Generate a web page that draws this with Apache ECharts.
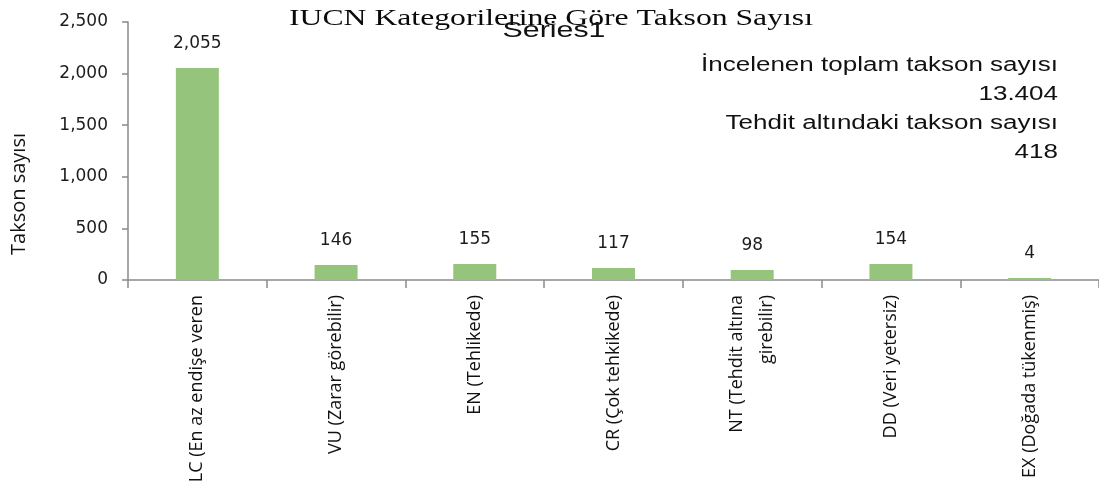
<!DOCTYPE html>
<html>
<head>
<meta charset="utf-8">
<script src="https://cdn.jsdelivr.net/npm/echarts@6/dist/echarts.min.js"></script>
<style>
  html, body { margin: 0; padding: 0; background: #fff; }
  #chart { width: 1099px; height: 493px; }
</style>
</head>
<body>
<div id="chart"></div>
<script>
// IUCN kategorileri ve takson sayıları
var categories = [
    'LC (En az endişe veren',
    'VU (Zarar görebilir)',
    'EN (Tehlikede)',
    'CR (Çok tehkikede)',
    'NT (Tehdit altına\ngirebilir)',
    'DD (Veri yetersiz)',
    'EX (Doğada tükenmiş)'
];
var values = [2055, 146, 155, 117, 98, 154, 4];
var yTicks = [0, 500, 1000, 1500, 2000, 2500];
var notes = ['İncelenen toplam takson sayısı', '13.404', 'Tehdit altındaki takson sayısı', '418'];

var fmt = function (v) { return Number(v).toLocaleString('en-US'); };

// sağ üstteki açıklama yazıları (resimde yatay olarak gerilmiş)
var noteTexts = notes.map(function (t, i) {
    return {
        type: 'text',
        x: 1058,
        y: 65 + i * 29,
        scaleX: 1.3,
        style: {
            text: t,
            align: 'right',
            verticalAlign: 'middle',
            font: '20px "Liberation Sans"',
            fill: '#111'
        }
    };
});

var option = {
    animation: false,
    graphic: [
        {
            type: 'text',
            x: 551,
            y: 19,
            scaleX: 1.32,
            style: {
                text: 'IUCN Kategorilerine Göre Takson Sayısı',
                align: 'center',
                verticalAlign: 'middle',
                font: '24px "Liberation Serif"',
                fill: '#0a0a0a'
            }
        },
        {
            type: 'text',
            x: 554,
            y: 31,
            scaleX: 1.38,
            style: {
                text: 'Series1',
                align: 'center',
                verticalAlign: 'middle',
                font: '22px "Liberation Sans"',
                fill: '#111'
            }
        },
        {
            type: 'text',
            x: 19,
            y: 194,
            rotation: Math.PI / 2,
            style: {
                text: 'Takson sayısı',
                align: 'center',
                verticalAlign: 'middle',
                font: '20px "Open Sans"',
                fill: '#111'
            }
        }
    ].concat(noteTexts),
    grid: {
        left: 128,
        right: -2,
        top: 22,
        bottom: 213
    },
    xAxis: {
        type: 'category',
        data: categories,
        axisLine: { lineStyle: { color: '#8a8a8a', width: 1.5 } },
        axisTick: { show: true, alignWithLabel: false, length: 8, lineStyle: { color: '#8a8a8a', width: 1.5 } },
        axisLabel: {
            rotate: 90,
            interval: 0,
            margin: 15,
            fontFamily: 'Open Sans',
            fontSize: 18,
            color: '#111',
            lineHeight: 30
        }
    },
    yAxis: {
        type: 'value',
        min: 0,
        max: 2500,
        interval: 500,
        splitLine: { show: false },
        axisLine: { show: true, lineStyle: { color: '#8a8a8a', width: 1.5 } },
        axisTick: { show: true, length: 6, lineStyle: { color: '#8a8a8a', width: 1.5 } },
        axisLabel: {
            margin: 20,
            fontFamily: 'DejaVu Sans',
            fontSize: 17,
            color: '#1c1c1c',
            formatter: function (v) { return yTicks.indexOf(v) >= 0 ? fmt(v) : ''; }
        }
    },
    series: [
        {
            name: 'Series1',
            type: 'bar',
            data: values,
            barWidth: 43,
            barMinHeight: 2,
            itemStyle: { color: '#95c57c' },
            label: {
                show: true,
                position: 'top',
                distance: 16,
                fontFamily: 'DejaVu Sans',
                fontSize: 17,
                color: '#1c1c1c',
                formatter: function (p) { return fmt(p.value); }
            }
        }
    ]
};

var myChart = echarts.init(document.getElementById('chart'));
myChart.setOption(option);
</script>
</body>
</html>
